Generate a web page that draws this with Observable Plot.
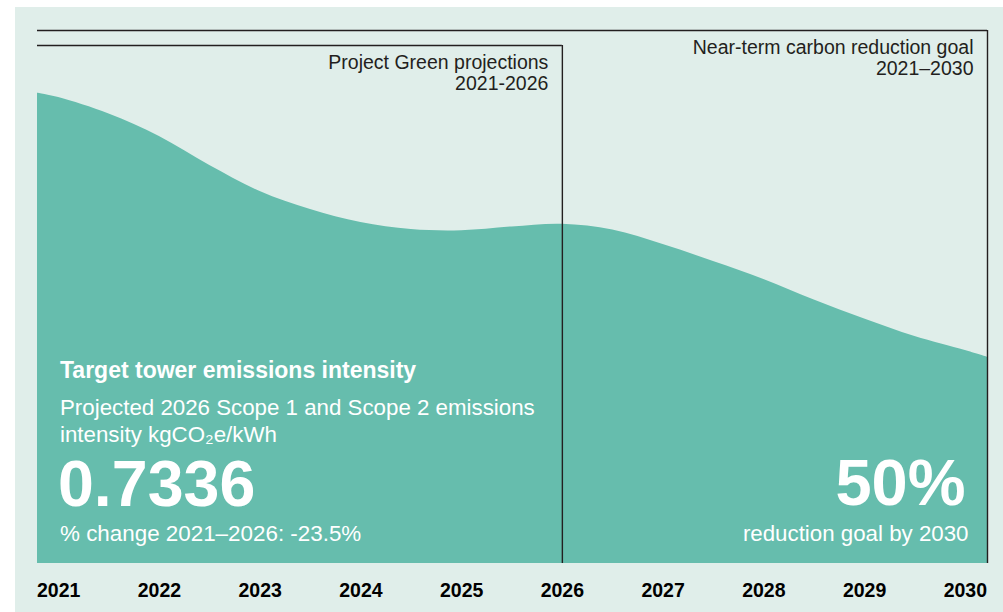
<!DOCTYPE html>
<html><head><meta charset="utf-8">
<script src="https://cdn.jsdelivr.net/npm/d3@7"></script>
<script src="https://cdn.jsdelivr.net/npm/@observablehq/plot@0.6"></script>
<style>
html,body{margin:0;padding:0;background:#fff;}
#chart{position:absolute;left:15px;top:7px;}
</style></head><body><div id="chart"></div>
<script>
// Tick years
const years = [2021, 2022, 2023, 2024, 2025, 2026, 2027, 2028, 2029, 2030];
// Curve (year position, intensity kgCO2e/kWh)
const curveYears = [2020.79, 2021, 2021.5, 2022, 2022.5, 2023, 2023.5, 2024, 2024.5, 2025, 2025.5,
                    2026, 2026.5, 2027, 2027.5, 2028, 2028.5, 2029, 2029.5, 2030, 2030.22];
const intensity = [0.9667, 0.959, 0.9297, 0.8897, 0.838, 0.7918, 0.7597, 0.7367, 0.7242, 0.722, 0.7288,
                   0.7336, 0.7233, 0.6975, 0.6673, 0.6353, 0.5988, 0.565, 0.5339, 0.509, 0.4971];
// Period brackets
const periodLabels = ["Near-term carbon reduction goal\n2021–2030", "Project Green projections\n2021-2026"];
const periodEnds = [2030, 2026];
// Callout texts
const leftTitle = ["Target tower emissions intensity"];
const leftSub = ["Projected 2026 Scope 1 and Scope 2 emissions\nintensity kgCO₂e/kWh"];
const leftValue = ["0.7336"];
const leftChange = ["% change 2021–2026: -23.5%"];
const rightValue = ["50%"];
const rightSub = ["reduction goal by 2030"];

const xDomain = [2020.79, 2030.22];
const yDomain = [0.130, 1.0783];
const data = curveYears.map((x, i) => ({x, v: intensity[i]}));
const font = '"Liberation Sans", Arial, Helvetica, sans-serif';
const ink = "#231f20";

const marks = [
  Plot.areaY(data, {x: "x", y1: yDomain[0], y2: "v", fill: "#66bdad", curve: "catmull-rom"})
];
periodLabels.forEach((label, i) => {
  const end = periodEnds[i];
  const xEnd = end === years[years.length - 1] ? xDomain[1] : end;
  const off = i * 15;
  marks.push(Plot.ruleY([yDomain[1]], {x1: xDomain[0], x2: xEnd, dy: off, stroke: ink, strokeWidth: 1.4}));
  marks.push(Plot.ruleX([xEnd], {insetTop: off, stroke: ink, strokeWidth: 1.4}));
  marks.push(Plot.text([label], {x: xEnd, y: yDomain[1], text: d => d, textAnchor: "end", lineAnchor: "bottom",
    dx: -14, dy: off + 44, fontSize: 19.5, lineHeight: 1.05, fill: ink}));
});
const white = "#ffffff";
marks.push(
  Plot.text(leftTitle, {text: d => d, frameAnchor: "bottom-left", textAnchor: "start", lineAnchor: "bottom",
    dx: 22.5, dy: -185.7, fontSize: 23, fontWeight: "bold", fill: white}),
  Plot.text(leftSub, {text: d => d, frameAnchor: "bottom-left", textAnchor: "start", lineAnchor: "bottom",
    dx: 22.5, dy: -121.3, fontSize: 22.3, lineHeight: 1.24, fill: white}),
  Plot.text(leftValue, {text: d => d, frameAnchor: "bottom-left", textAnchor: "start", lineAnchor: "bottom",
    dx: 20.5, dy: -58, fontSize: 64.5, fontWeight: "bold", fill: white}),
  Plot.text(leftChange, {text: d => d, frameAnchor: "bottom-left", textAnchor: "start", lineAnchor: "bottom",
    dx: 22.5, dy: -23, fontSize: 22.4, fill: white}),
  Plot.text(rightValue, {text: d => d, frameAnchor: "bottom-right", textAnchor: "end", lineAnchor: "bottom",
    dx: -22, dy: -58.7, fontSize: 65, fontWeight: "bold", fill: white}),
  Plot.text(rightSub, {text: d => d, frameAnchor: "bottom-right", textAnchor: "end", lineAnchor: "bottom",
    dx: -19, dy: -23, fontSize: 22.3, fill: white}),
  Plot.axisX(years, {tickFormat: "d", tickSize: 0, tickPadding: 20, fontSize: 19.5, fontWeight: "bold",
    fill: "#000", label: null})
);

const chart = Plot.plot({
  width: 988, height: 605,
  marginLeft: 22, marginRight: 16, marginTop: 23, marginBottom: 49,
  x: {domain: xDomain, axis: null, label: null},
  y: {domain: yDomain, axis: null},
  style: {fontFamily: font, background: "#e0eeea", overflow: "visible", color: "#000"},
  marks
});
document.getElementById("chart").appendChild(chart);
</script></body></html>
